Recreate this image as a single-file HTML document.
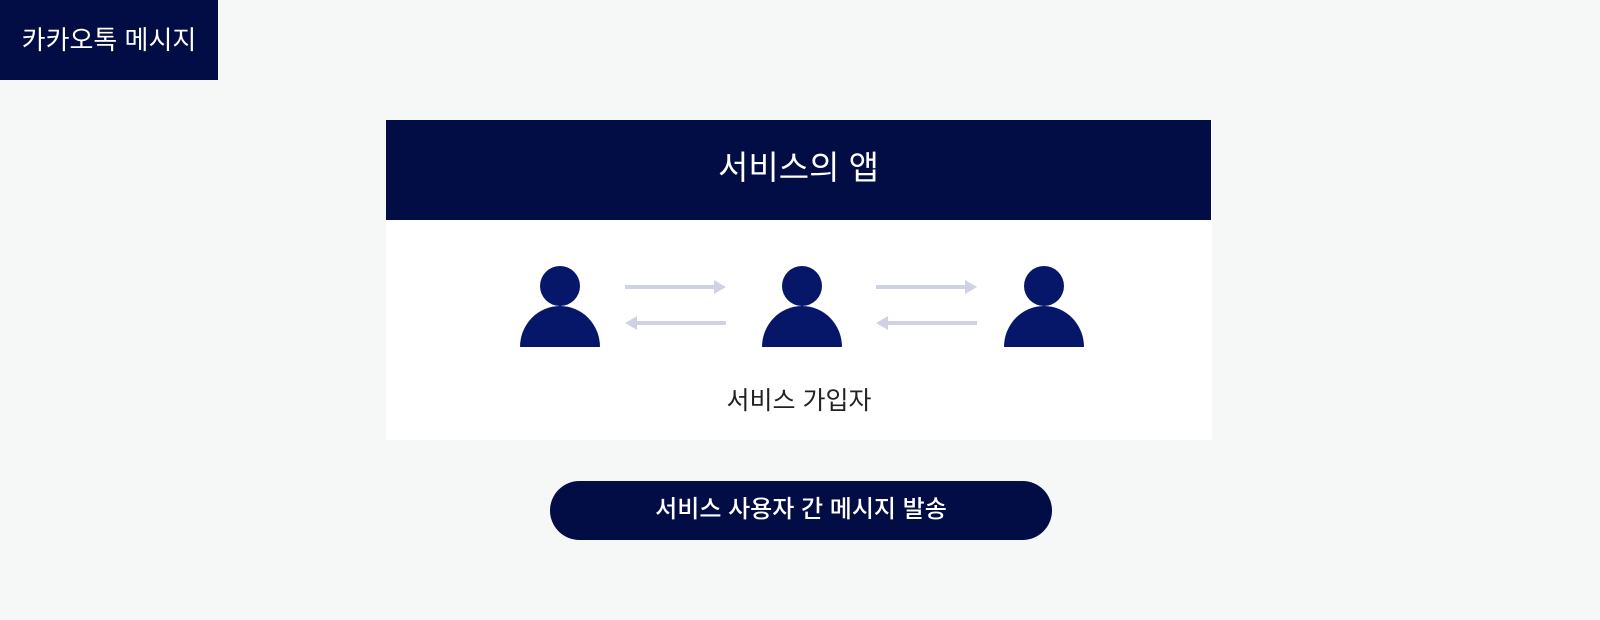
<!DOCTYPE html>
<html><head><meta charset="utf-8"><style>
body{margin:0;width:1600px;height:620px;background:#f6f7f7;position:relative;overflow:hidden;font-family:"Liberation Sans","Noto Sans CJK KR",sans-serif}
.a{position:absolute}
</style></head><body>
<div class="a" style="left:0;top:0;width:218px;height:80px;background:#020c45;color:#fff;font-size:26px;line-height:80px;text-align:center">카카오톡 메시지</div>
<div class="a" style="left:386px;top:120px;width:826px;height:320px;background:#fff"></div>
<div class="a" style="left:386px;top:120px;width:825px;height:100px;background:#020c45;color:#fff;font-size:33px;line-height:96px;text-align:center">서비스의 앱</div>
<svg class="a" style="left:0;top:0" width="1600" height="620">
<g fill="#06176a">
<circle cx="560" cy="286" r="20"/><path d="M520 347 A40 41 0 0 1 600 347 Z"/>
<circle cx="802" cy="286" r="20"/><path d="M762 347 A40 41 0 0 1 842 347 Z"/>
<circle cx="1044" cy="286" r="20"/><path d="M1004 347 A40 41 0 0 1 1084 347 Z"/>
</g>
<g fill="#cfd2e4">
<rect x="625" y="285" width="92" height="4"/><path d="M714 280 L726 287 L714 294Z"/>
<rect x="636" y="321" width="90" height="4"/><path d="M637 316 L625 323 L637 330Z"/>
<rect x="876" y="285" width="90" height="4"/><path d="M965 280 L977 287 L965 294Z"/>
<rect x="887" y="321" width="90" height="4"/><path d="M888 316 L876 323 L888 330Z"/>
</g>
</svg>
<div class="a" style="left:386px;top:381px;width:826px;text-align:center;font-size:25px;color:#222">서비스 가입자</div>
<div class="a" style="left:550px;top:481px;width:502px;height:59px;border-radius:30px;background:#020c45;color:#fff;font-size:24px;font-weight:500;line-height:57px;text-align:center">서비스 사용자 간 메시지 발송</div>
</body></html>
